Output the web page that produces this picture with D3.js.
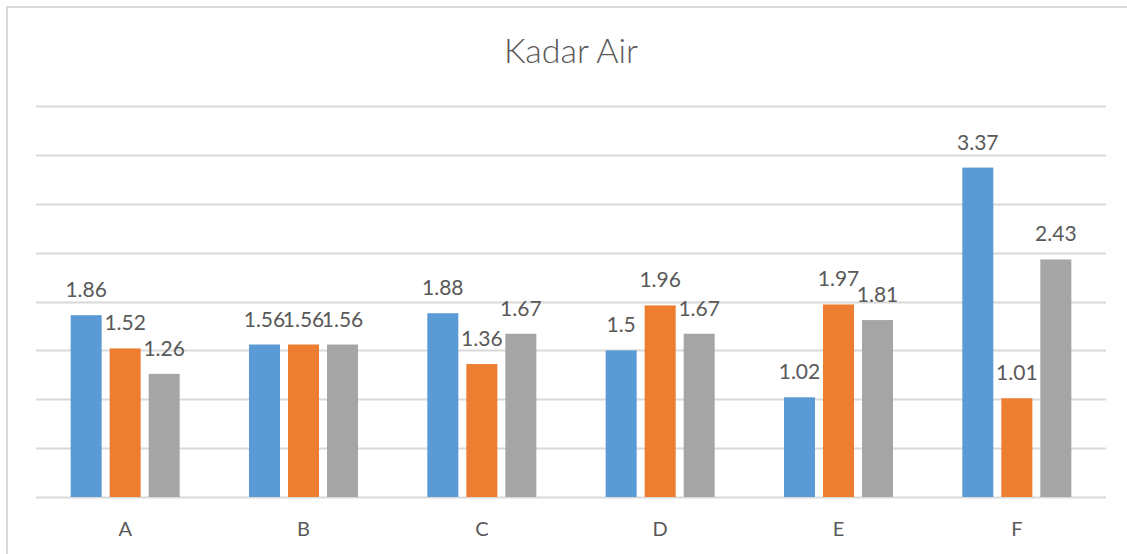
<!DOCTYPE html>
<html>
<head>
<meta charset="utf-8">
<script src="https://cdn.jsdelivr.net/npm/d3@7"></script>
<style>
  body { margin: 0; background: #fff; }
  text { font-family: Lato, "Open Sans", sans-serif; fill: #595959; }
</style>
</head>
<body>
<script>
var categories = ["A", "B", "C", "D", "E", "F"];
var series1 = [1.86, 1.56, 1.88, 1.5, 1.02, 3.37];
var series2 = [1.52, 1.56, 1.36, 1.96, 1.97, 1.01];
var series3 = [1.26, 1.56, 1.67, 1.67, 1.81, 2.43];
var colors = ["#5B9BD5", "#ED7D31", "#A5A5A5"];
var yTicks = [0, 0.5, 1, 1.5, 2, 2.5, 3, 3.5, 4];

var allSeries = [series1, series2, series3];

var svg = d3.select("body")
    .append("svg")
    .attr("width", 1127)
    .attr("height", 554);

// chart frame
svg.append("rect")
    .attr("x", 7)
    .attr("y", 7)
    .attr("width", 1140)
    .attr("height", 560)
    .attr("fill", "#fff")
    .attr("stroke", "#D9D9D9")
    .attr("stroke-width", 2);

var x = d3.scaleBand()
    .domain(categories)
    .range([36, 1106])
    .padding(0);

var xs = d3.scaleBand()
    .domain([0, 1, 2])
    .range([0, x.bandwidth()])
    .paddingInner(0.205)
    .paddingOuter(0.888);

var y = d3.scaleLinear()
    .domain([0, 4])
    .range([497, 106]);

svg.selectAll(".grid")
    .data(yTicks)
    .enter()
    .append("line")
    .attr("class", "grid")
    .attr("x1", 36)
    .attr("x2", 1106)
    .attr("y1", d => Math.round(y(d)) + 0.5)
    .attr("y2", d => Math.round(y(d)) + 0.5)
    .attr("stroke", "#D9D9D9")
    .attr("stroke-width", 2);

var groups = svg.selectAll(".cat")
    .data(categories)
    .enter()
    .append("g")
    .attr("class", "cat")
    .attr("transform", d => "translate(" + x(d) + ",0)");

groups.selectAll("rect")
    .data((d, i) => allSeries.map((s, k) => ({ k: k, v: s[i] })))
    .enter()
    .append("rect")
    .attr("x", d => xs(d.k))
    .attr("width", xs.bandwidth())
    .attr("y", d => y(d.v))
    .attr("height", d => y(0) - y(d.v))
    .attr("fill", d => colors[d.k]);

groups.selectAll(".lbl")
    .data((d, i) => allSeries.map((s, k) => ({ k: k, v: s[i] })))
    .enter()
    .append("text")
    .attr("class", "lbl")
    .attr("x", d => xs(d.k) + xs.bandwidth() / 2)
    .attr("y", d => y(d.v) - 18)
    .attr("text-anchor", "middle")
    .attr("font-size", 21)
    .text(d => d.v);

// category axis labels
svg.append("g")
    .attr("transform", "translate(0,497)")
    .call(d3.axisBottom(x).tickSize(0).tickPadding(0))
    .call(g => g.select(".domain").remove())
    .selectAll("text")
    .attr("dy", null)
    .attr("y", 39)
    .attr("font-size", 20)
    .attr("font-family", "Lato, 'Open Sans', sans-serif")
    .attr("fill", "#595959");

svg.append("text")
    .attr("x", 571)
    .attr("y", 63)
    .attr("text-anchor", "middle")
    .attr("font-size", 34)
    .attr("font-weight", 300)
    .text("Kadar Air");
</script>
</body>
</html>
